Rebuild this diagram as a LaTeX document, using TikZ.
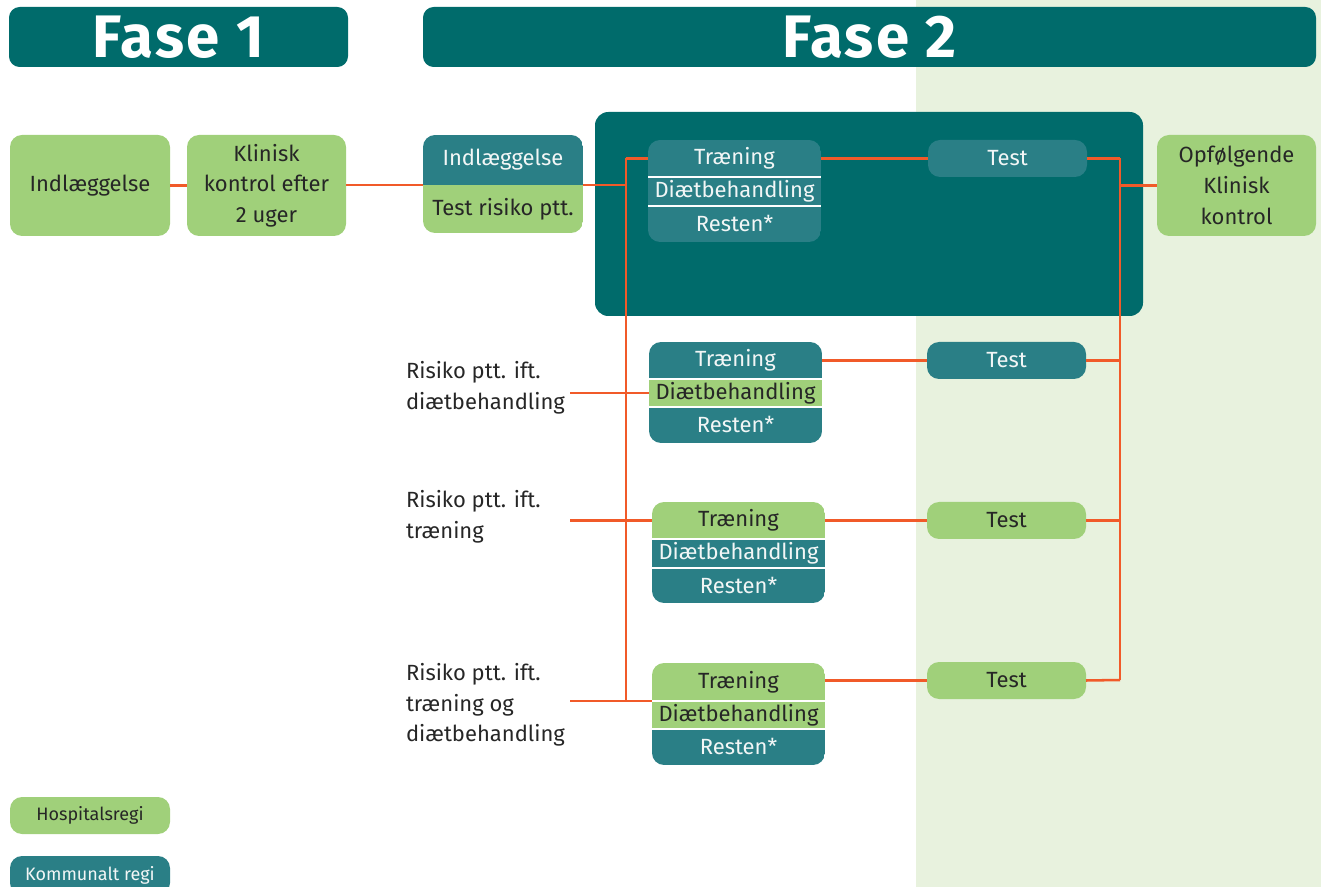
\documentclass[tikz,border=0pt]{standalone}
\usepackage{fontspec}
\setmainfont{Fira Sans}
\definecolor{dteal}{HTML}{006B6B}
\definecolor{lteal}{HTML}{2A7F86}
\definecolor{lgreen}{HTML}{A0D07A}
\definecolor{bgg}{HTML}{E8F2DE}
\definecolor{org}{HTML}{F15A29}
\definecolor{txt}{HTML}{262626}
\definecolor{wtxt}{HTML}{F2F6F6}
% \pbox{style}{name}{x1}{x2}{y1}{y2}{text}
\newcommand\pbox[7]{\node[#1, minimum width={(#4-#3)*0.75pt}, minimum height={(#6-#5)*0.75pt}] (#2) at ({(#3+#4)/2},{(#5+#6)/2}) {#7};}
\begin{document}
\begin{tikzpicture}[x=0.75pt,y=-0.75pt,
  every node/.style={inner sep=0pt, outer sep=0pt, font=\fontsize{16.5}{23}\selectfont, align=center},
  gbox/.style={fill=lgreen, text=txt, rounded corners=9pt},
  tbox/.style={fill=lteal, text=wtxt, rounded corners=9pt},
  gband/.style={fill=lgreen, text=txt},
  tband/.style={fill=lteal, text=wtxt},
  con/.style={draw=org, line width=1.9pt},
  sepline/.style={draw=white, line width=1pt},
  hdr/.style={fill=dteal, text=white, rounded corners=8pt, font=\fontsize{45}{50}\selectfont\bfseries\addfontfeature{LetterSpace=4}},
  legend/.style={font=\fontsize{13.5}{15}\selectfont}
]
\useasboundingbox (0,0) rectangle (1321,887);
\clip (0,0) rectangle (1321,887);
\fill[bgg] (916,0) rectangle (1321,887);

% headers
\pbox{hdr}{h1}{9}{348}{7}{67}{Fase 1}
\pbox{hdr}{h2}{423}{1316}{7}{67}{Fase 2}

% big dark box
\pbox{fill=dteal, rounded corners=10pt}{big}{595}{1143}{112}{316}{}

% first row boxes
\pbox{gbox}{ind1}{10}{170}{135}{236}{Indlæggelse}
\pbox{gbox}{klin}{187}{346}{135}{236}{Klinisk\\kontrol efter\\2 uger}
\begin{scope}
  \clip[rounded corners=9pt] (423,135) rectangle (583,233);
  \pbox{tband}{ind2}{423}{583}{135}{185}{Indlæggelse}
  \pbox{gband}{trisk}{423}{583}{185}{233}{Test risiko ptt.}
\end{scope}
\pbox{gbox}{opf}{1157}{1316}{135}{236}{Opfølgende\\Klinisk\\kontrol}

% three-band box 1
\begin{scope}
  \clip[rounded corners=9pt] (648,140) rectangle (821,242);
  \pbox{tband}{t1}{648}{821}{140}{177}{Træning}
  \pbox{tband}{d1}{648}{821}{177}{206}{Diætbehandling}
  \pbox{tband}{r1}{648}{821}{206}{242}{Resten*}
\end{scope}
\draw[sepline] (t1.south west) -- (t1.south east);
\draw[sepline] (d1.south west) -- (d1.south east);

% three-band box 2
\begin{scope}
  \clip[rounded corners=9pt] (649,342) rectangle (822,443);
  \pbox{tband}{t2}{649}{822}{342}{379}{Træning}
  \pbox{gband}{d2}{649}{822}{379}{407}{Diætbehandling}
  \pbox{tband}{r2}{649}{822}{407}{443}{Resten*}
\end{scope}
\draw[sepline] (t2.south west) -- (t2.south east);
\draw[sepline] (d2.south west) -- (d2.south east);

% three-band box 3
\begin{scope}
  \clip[rounded corners=9pt] (652,502) rectangle (825,603);
  \pbox{gband}{t3}{652}{825}{502}{539}{Træning}
  \pbox{tband}{d3}{652}{825}{539}{568}{Diætbehandling}
  \pbox{tband}{r3}{652}{825}{568}{603}{Resten*}
\end{scope}
\draw[sepline] (t3.south west) -- (t3.south east);
\draw[sepline] (d3.south west) -- (d3.south east);

% three-band box 4
\begin{scope}
  \clip[rounded corners=9pt] (652,663) rectangle (825,765);
  \pbox{gband}{t4}{652}{825}{663}{701}{Træning}
  \pbox{gband}{d4}{652}{825}{701}{729}{Diætbehandling}
  \pbox{tband}{r4}{652}{825}{729}{765}{Resten*}
\end{scope}
\draw[sepline] (t4.south west) -- (t4.south east);
\draw[sepline] (d4.south west) -- (d4.south east);

% test boxes
\pbox{tbox}{test1}{928}{1087}{140}{177}{Test}
\pbox{tbox}{test2}{927}{1086}{342}{379}{Test}
\pbox{gbox}{test3}{927}{1086}{502}{539}{Test}
\pbox{gbox}{test4}{927}{1086}{662}{699}{Test}

% risk labels
\node[anchor=west, align=left, text=txt] (l2) at (406,388) {Risiko ptt. ift.\\diætbehandling};
\node[anchor=west, align=left, text=txt] (l3) at (406,517) {Risiko ptt. ift.\\træning};
\node[anchor=west, align=left, text=txt] (l4) at (406,705) {Risiko ptt. ift.\\træning og\\diætbehandling};

% legend
\pbox{gbox, legend}{leg1}{10}{170}{797}{834}{Hospitalsregi}
\pbox{tbox, legend}{leg2}{10}{170}{856}{895}{Kommunalt regi}

% coordinates
\coordinate (lv1) at (626,158.5);
\coordinate (lv4) at (626,701);
\coordinate (rv1) at (1120,158.5);
\coordinate (rv4) at (1120,680);
\coordinate (s2) at (570,393);
\coordinate (s3) at (570,520.5);
\coordinate (s4) at (570,701);

% connectors
\draw[con] (ind1) -- (klin);
\draw[con] (klin.east |- ind2.south) -- (ind2.south west);
\draw[con] (ind2.south east) -- (ind2.south -| lv1);
\draw[con] (lv1) -- (lv4);
\draw[con] (lv1) -- (t1.west);
\draw[con] (s2) -- (d2.west);
\draw[con] (s3) -- (t3.west);
\draw[con] (s4) -- (t4.south west);
\draw[con] (t1.east) -- (t1.east -| test1.west);
\draw[con] (t2.east) -- (t2.east -| test2.west);
\draw[con] (t3.east) -- (t3.east -| test3.west);
\draw[con] (test4.west -| t4.east) -- (test4.west);
\draw[con] (test1.east) -- (test1.east -| rv1);
\draw[con] (test2.east) -- (test2.east -| rv1);
\draw[con] (test3.east) -- (test3.east -| rv1);
\draw[con] (test4.east) -- (rv4);
\draw[con] (rv1) -- (rv4);
\draw[con] (opf.west -| rv1) -- (opf.west);
\end{tikzpicture}
\end{document}
